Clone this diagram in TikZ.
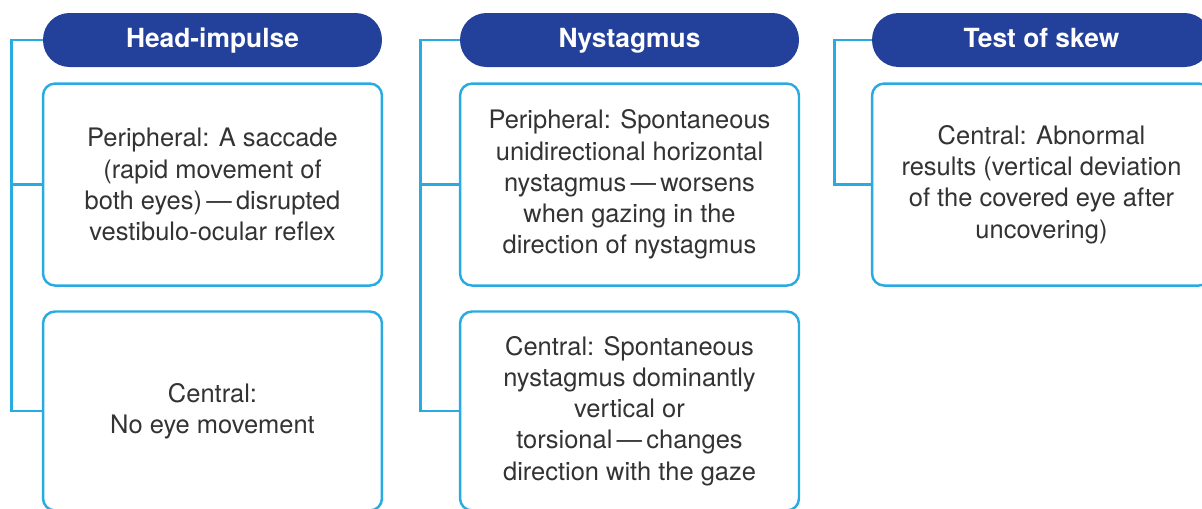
\documentclass[tikz,border=0pt]{standalone}
\usepackage{fontspec}
\setmainfont{TeX Gyre Heros}
\usetikzlibrary{positioning,calc}
\definecolor{hdblue}{HTML}{23409A}
\definecolor{lnblue}{HTML}{29ABE2}
\definecolor{txgray}{HTML}{333333}
\tikzset{
    head/.style = {fill=hdblue, text=white, rounded corners=0.53cm,
        minimum width=6.78cm, minimum height=1.08cm, inner sep=0pt,
        text height=9pt, text depth=0pt,
        font=\bfseries\fontsize{15}{18}\selectfont},
    block/.style = {draw=lnblue, line width=1.4pt, rounded corners=0.24cm,
        fill=white, minimum width=6.78cm, align=center, text=txgray,
        font=\fontsize{14.5}{17.8}\selectfont},
    link/.style = {draw=lnblue, line width=1.4pt}
}

\begin{document}
\begin{tikzpicture}[x=0.02cm, y=-0.02cm]
    \useasboundingbox (0,0) rectangle (1202,508);
    \clip (0,0) rectangle (1202,508);
        \node [head] (h1) at (212.5,40) {Head-impulse};
        \node [head] (h2) at (629.5,40) {Nystagmus};
        \node [head] (h3) at (1041.5,40) {Test of skew};
        % upper boxes
        \node [block, below=0.3cm of h1, minimum height=4.04cm] (top1) {Peripheral: A saccade\\(rapid movement of\\both eyes)\,---\,disrupted\\vestibulo-ocular reflex};
        \node [block, below=0.3cm of h2, minimum height=4.04cm] (top2) {Peripheral: Spontaneous\\unidirectional horizontal\\nystagmus\,---\,worsens\\when gazing in the\\direction of nystagmus};
        \node [block, below=0.3cm of h3, minimum height=4.04cm] (top3) {Central: Abnormal\\results (vertical deviation\\of the covered eye after\\uncovering)};
        % lower boxes
        \node [block, below=0.47cm of top1, minimum height=3.98cm] (bot1) {Central:\\No eye movement};
        \node [block, below=0.47cm of top2, minimum height=3.98cm] (bot2) {Central: Spontaneous\\nystagmus dominantly\\vertical or\\torsional\,---\,changes\\direction with the gaze};
        \foreach \a/\d in {1/31,2/39,3/37}{
            \coordinate (spine\a) at ($(h\a.west)+(-\d,0)$);
            \draw [link] (h\a.west) -- (spine\a) |- (top\a.west);
        }
        \foreach \a in {1,2}{
            \draw [link] (spine\a) |- (bot\a.west);
        }
\end{tikzpicture}
\end{document}
